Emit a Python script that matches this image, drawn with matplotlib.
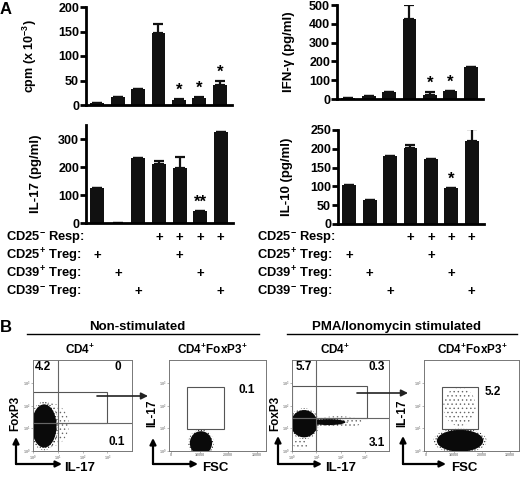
import matplotlib
matplotlib.use("Agg")
import matplotlib.pyplot as plt
from matplotlib.patches import Ellipse, Rectangle
from matplotlib.transforms import blended_transform_factory

plt.rcParams["font.family"] = ["Liberation Sans", "DejaVu Sans"]
plt.rcParams["font.weight"] = "bold"
plt.rcParams["mathtext.fontset"] = "custom"
plt.rcParams["mathtext.rm"] = "Liberation Sans:bold"
plt.rcParams["mathtext.bf"] = "Liberation Sans:bold"
plt.rcParams["mathtext.it"] = "Liberation Sans:bold"
plt.rcParams["mathtext.default"] = "rm"
plt.rcParams["hatch.linewidth"] = 0.5

# ---- panel A data ----
cpm = [4, 16, 33, 147, 11, 15, 41]
cpm_err = [0, 0, 0, 18, 1, 1, 7]
cpm_sig = ["", "", "", "", "*", "*", "*"]

ifng = [3, 15, 35, 428, 23, 40, 172]
ifng_err = [0, 0, 0, 72, 12, 0, 0]
ifng_sig = ["", "", "", "", "*", "*", ""]

il17 = [126, 0, 232, 212, 198, 42, 326]
il17_err = [0, 0, 0, 10, 36, 0, 0]
il17_sig = ["", "", "", "", "", "**", ""]

il10 = [105, 63, 180, 203, 174, 96, 221]
il10_err = [0, 0, 0, 7, 0, 0, 31]
il10_sig = ["", "", "", "", "", "*", ""]

row_labels = [r"CD25$^{-}$ Resp:", r"CD25$^{+}$ Treg:", r"CD39$^{+}$ Treg:", r"CD39$^{-}$ Treg:"]
cd25m_resp = [0, 0, 0, 1, 1, 1, 1]
cd25p_treg = [1, 0, 0, 0, 1, 0, 0]
cd39p_treg = [0, 1, 0, 0, 0, 1, 0]
cd39m_treg = [0, 0, 1, 0, 0, 0, 1]
table_rows = [cd25m_resp, cd25p_treg, cd39p_treg, cd39m_treg]

# ---- panel B data (log axes in decades, FSC linear) ----
decade_labels = [r"$10^{0}$", r"$10^{1}$", r"$10^{2}$", r"$10^{3}$"]
fsc_ticks = [0, 10000, 20000, 30000]
quad_ns = (1.0, 1.23)
quad_st = (1.0, 1.45)
gate_ns = (0, 1.23, 3.0, 2.6)
gate_st = (0, 1.45, 3.1, 2.86)
fsc_gate = (5600, 0.95, 18600, 2.8)
# clouds: (x, y, half width, half height, dense?)
cloud_p1 = [(0.7, 1.15, 0.75, 0.95, False), (0.45, 1.1, 0.5, 0.95, True)]
cloud_p2 = [(10500, 0.35, 3900, 0.52, True)]
cloud_p3 = [(1.9, 1.27, 1.0, 0.26, False), (0.35, 0.3, 0.3, 0.22, False),
            (1.5, 1.27, 0.7, 0.13, True), (0.5, 1.2, 0.55, 0.6, True)]
cloud_p4 = [(12000, 1.95, 5800, 0.85, False), (12200, 0.45, 8300, 0.48, True)]

W, H = 520, 478
fig = plt.figure(figsize=(W / 100, H / 100), dpi=100)


def rect(x0, y0, x1, y1):
    return [x0 / W, 1 - y1 / H, (x1 - x0) / W, (y1 - y0) / H]


def fp(x, y):
    return (x / W, 1 - y / H)


def bar_panel(box, vals, errs, sig, ymax, step, ylabel, lab_x, lab_size=9.5):
    ax = fig.add_axes(rect(*box))
    x = list(range(len(vals)))
    ax.bar(x, vals, width=0.68, color="#111111")
    lo = [0] * len(vals)
    ax.errorbar(x, vals, yerr=[lo, errs], fmt="none", ecolor="#111111",
                elinewidth=1.6, capsize=3.5, capthick=1.6)
    for xi, v, e, s in zip(x, vals, errs, sig):
        if s:
            ax.annotate(s, (xi, v + e), xytext=(0, 1), textcoords="offset points",
                        ha="center", va="bottom", fontsize=12, fontweight="bold")
    ax.set_xlim(-0.55, 6.6)
    ax.set_ylim(0, ymax)
    ax.set_yticks(range(0, ymax + 1, step))
    ax.set_xticks([])
    for s in ["top", "right"]:
        ax.spines[s].set_visible(False)
    for s in ["left", "bottom"]:
        ax.spines[s].set_linewidth(2)
    ax.tick_params(axis="y", length=4, width=2, pad=1, labelsize=9)
    for t in ax.get_yticklabels():
        t.set_fontweight("bold")
    ax.set_ylabel(ylabel, fontsize=lab_size, fontweight="bold")
    ax.yaxis.set_label_coords(lab_x, 0.5)
    return ax


ax1 = bar_panel((86, 7, 232, 105), cpm, cpm_err, cpm_sig, 200, 50,
                r"cpm (x 10$^{-3}$)", -0.32, 9)
ax2 = bar_panel((337, 5, 483, 99), ifng, ifng_err, ifng_sig, 500, 100,
                "IFN-γ (pg/ml)", -0.29)
ax3 = bar_panel((86, 125, 233, 223), il17, il17_err, il17_sig, 350, 100,
                "IL-17 (pg/ml)", -0.30)
ax4 = bar_panel((338, 130, 484, 224), il10, il10_err, il10_sig, 250, 50,
                "IL-10 (pg/ml)", -0.31)

# condition table under the bars
row_y = [238, 256, 274, 292]
for ax, lx in [(ax3, 6), (ax4, 257)]:
    tr = blended_transform_factory(ax.transData, fig.transFigure)
    for lab, yy, row in zip(row_labels, row_y, table_rows):
        fig.text(*fp(lx, yy), lab, fontsize=9.3, fontweight="bold", va="center", ha="left")
        for i, on in enumerate(row):
            if on:
                ax.text(i, fp(0, yy)[1], "+", transform=tr, ha="center", va="center",
                        fontsize=9.5, fontweight="bold")

fig.text(*fp(6, 10), "A", fontsize=12, fontweight="bold", ha="center", va="center")
fig.text(*fp(6, 328), "B", fontsize=12, fontweight="bold", ha="center", va="center")

# ---- panel B ----
fig.text(*fp(137, 327), "Non-stimulated", fontsize=9.5, fontweight="bold", ha="center", va="center")
fig.text(*fp(397, 327), "PMA/Ionomycin stimulated", fontsize=9.5, fontweight="bold",
         ha="center", va="center")
fig.add_artist(plt.Line2D([27 / W, 259 / W], [fp(0, 334)[1]] * 2, color="k", lw=1))
fig.add_artist(plt.Line2D([287 / W, 517 / W], [fp(0, 334)[1]] * 2, color="k", lw=1))


def flow_axes(box, log_x, title, title_x):
    ax = fig.add_axes(rect(*box))
    for s in ax.spines.values():
        s.set_linewidth(0.7)
        s.set_color("#777777")
    if log_x:
        ax.set_xlim(0, 4)
        ax.set_xticks(range(4))
        ax.set_xticklabels(decade_labels)
    else:
        ax.set_xlim(-700, 33300)
        ax.set_xticks(fsc_ticks)
    ax.set_ylim(0, 4)
    ax.set_yticks(range(4))
    ax.set_yticklabels(decade_labels)
    ax.tick_params(length=1.2, width=0.5, color="#999999", labelsize=2.6,
                   labelcolor="#888888", pad=0.6)
    fig.text(*fp(title_x, 350), title, fontsize=8.5, fontweight="bold", ha="center", va="center")
    return ax


def draw_clouds(ax, clouds):
    for cx, cy, sx, sy, dense in clouds:
        if dense:
            ax.add_patch(Ellipse((cx, cy), 2.3 * sx, 2.25 * sy, fill=False, hatch="......",
                                 edgecolor="#222222", lw=0))
            ax.add_patch(Ellipse((cx, cy), 2 * sx, 2 * sy, facecolor="#0a0a0a", lw=0))
        else:
            ax.add_patch(Ellipse((cx, cy), 2 * sx, 2 * sy, fill=False, hatch="....",
                                 edgecolor="#666666", lw=0))


def gate(ax, g):
    x0, y0, x1, y1 = g
    ax.add_patch(Rectangle((x0, y0), x1 - x0, y1 - y0, fill=False, ec="#555555", lw=0.8))


f1 = flow_axes((33, 360, 132, 451), True, r"CD4$^{+}$", 80)
draw_clouds(f1, cloud_p1)
f1.axvline(quad_ns[0], color="#666666", lw=0.8)
f1.axhline(quad_ns[1], color="#666666", lw=0.8)
gate(f1, gate_ns)

f2 = flow_axes((169, 360, 266, 451), False, r"CD4$^{+}$FoxP3$^{+}$", 212)
draw_clouds(f2, cloud_p2)
gate(f2, fsc_gate)

f3 = flow_axes((292, 360, 389, 451), True, r"CD4$^{+}$", 335)
draw_clouds(f3, cloud_p3)
f3.axvline(quad_st[0], color="#666666", lw=0.8)
f3.axhline(quad_st[1], color="#666666", lw=0.8)
gate(f3, gate_st)

f4 = flow_axes((424, 360, 519, 451), False, r"CD4$^{+}$FoxP3$^{+}$", 472)
draw_clouds(f4, cloud_p4)
gate(f4, fsc_gate)

# percentages
pct = [("4.2", 43, 367), ("0", 118, 367), ("0.1", 117, 442), ("0.1", 247, 390),
       ("5.7", 304, 367), ("0.3", 377, 367), ("3.1", 377, 443), ("5.2", 493, 392)]
for s, x, y in pct:
    fig.text(*fp(x, y), s, fontsize=8.5, fontweight="bold", ha="center", va="center")

# axis arrows and names: corner x, arrow head x, arrow head y, names, name x
arr = dict(arrowstyle="-|>", lw=1.6, color="k", mutation_scale=9, shrinkA=0, shrinkB=0)
axes_marks = [(16, 62, 437, "FoxP3", 15, "IL-17", 64), (153, 198, 438, "IL-17", 152, "FSC", 202),
              (278, 322, 436, "FoxP3", 275, "IL-17", 325), (403, 446, 436, "IL-17", 402, "FSC", 451)]
for cx, hx, vy, ylab, ylab_x, xlab, xlab_x in axes_marks:
    fig.add_artist(plt.Annotation("", xy=fp(hx, 464), xytext=fp(cx, 464),
                                  xycoords="figure fraction", arrowprops=arr))
    fig.add_artist(plt.Annotation("", xy=fp(cx, vy), xytext=fp(cx, 464),
                                  xycoords="figure fraction", arrowprops=arr))
    fig.text(*fp(ylab_x, 413), ylab, rotation=90, fontsize=8.5, fontweight="bold",
             ha="center", va="center")
    fig.text(*fp(xlab_x, 468), xlab, fontsize=9.5, fontweight="bold", ha="left", va="center")

# gate arrows
for x0, x1, y in [(97, 148, 396), (357, 408, 393)]:
    fig.add_artist(plt.Annotation("", xy=fp(x1, y), xytext=fp(x0, y),
                                  xycoords="figure fraction",
                                  arrowprops=dict(arrowstyle="-|>", lw=1.2, color="#222222",
                                                  mutation_scale=10, shrinkA=0, shrinkB=0)))

fig.savefig("out.png", dpi=100)
